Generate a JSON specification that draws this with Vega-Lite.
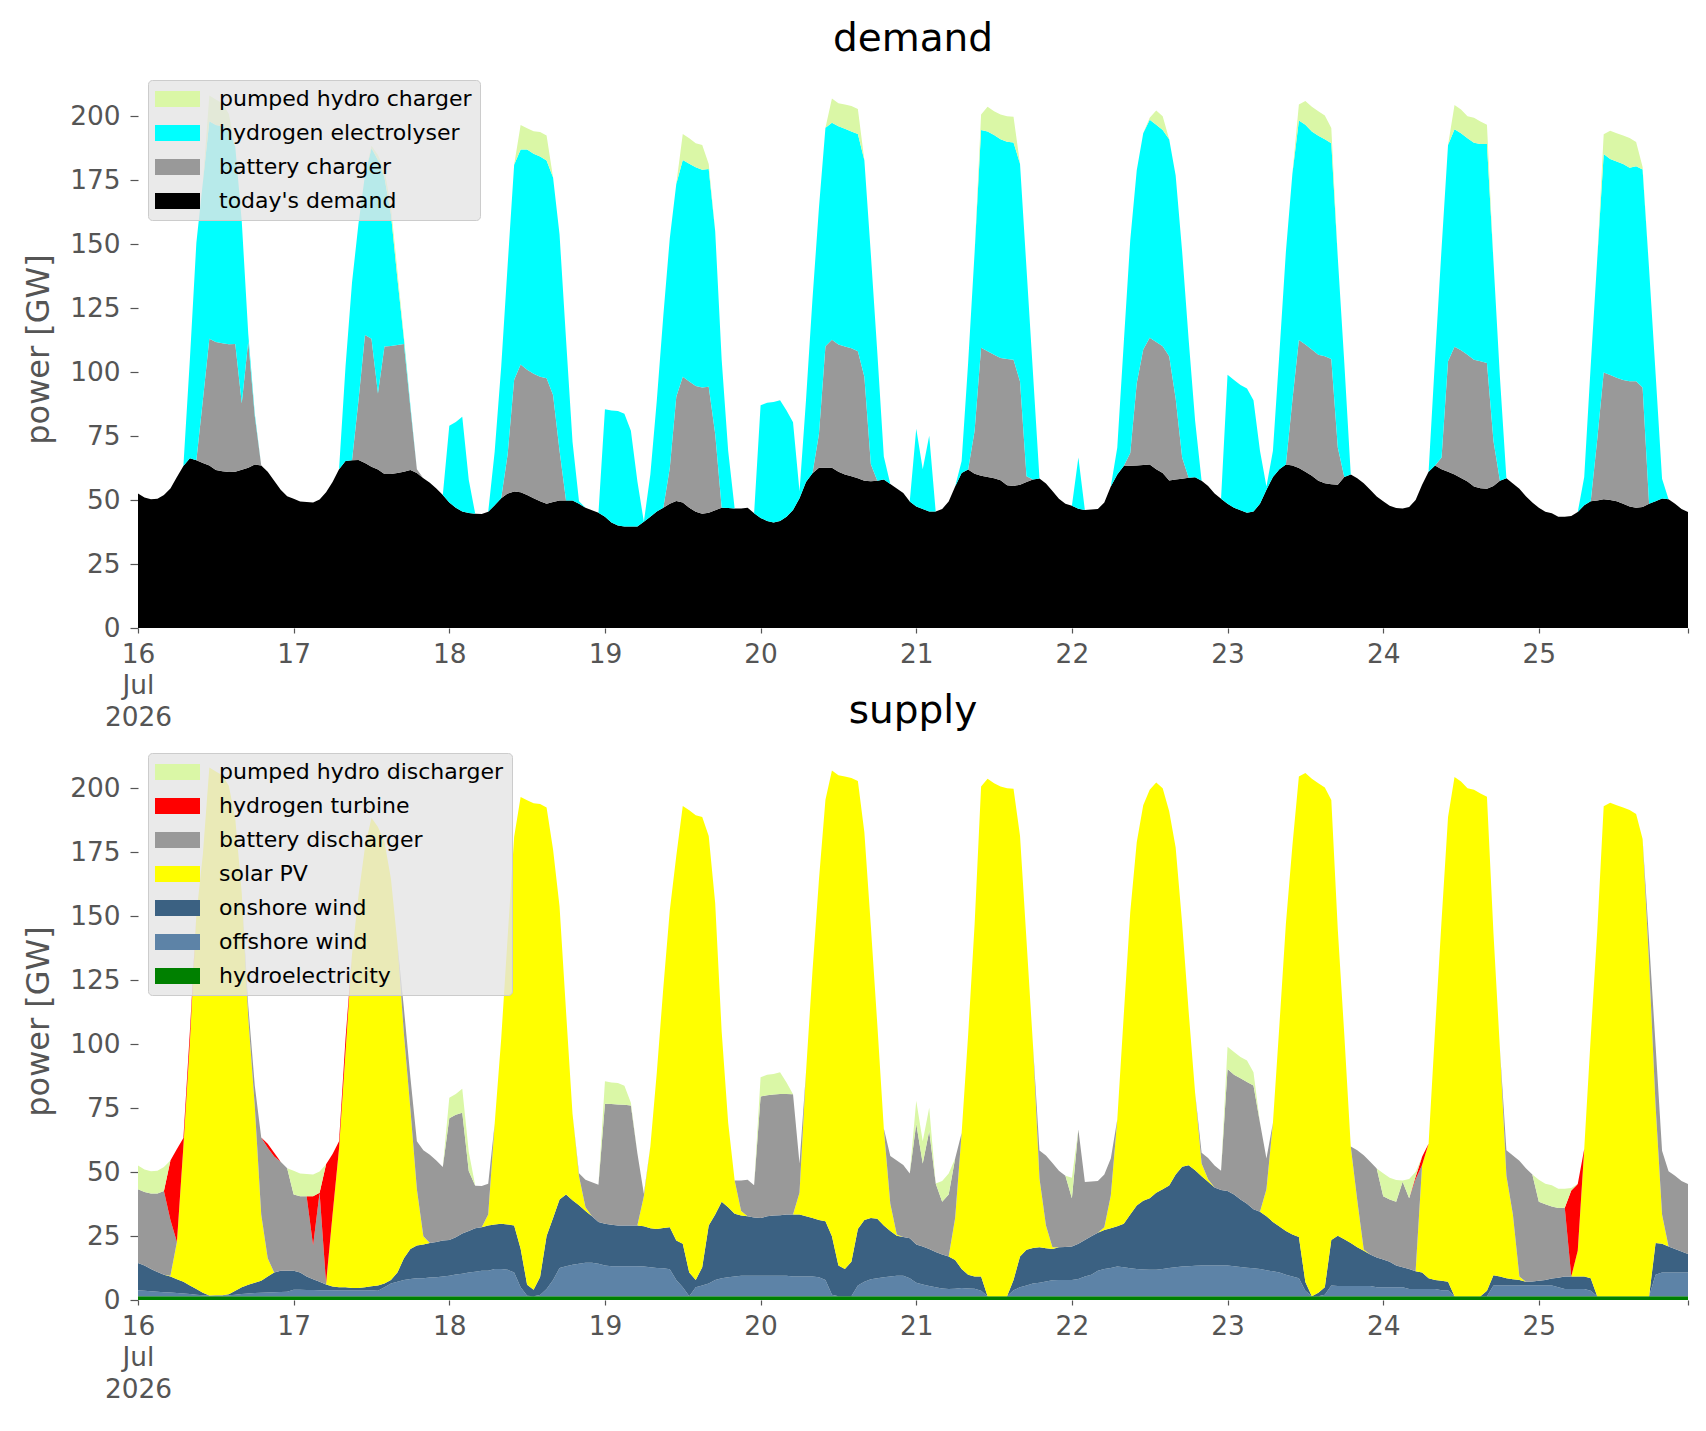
{
"$schema": "https://vega.github.io/schema/vega-lite/v6.json",
"background": "white",
"padding": {"left": 22, "top": 20, "right": 10, "bottom": 10},
"spacing": 114,
"bounds": "flush",
"config": {
 "font": "DejaVu Sans",
 "view": {"stroke": null},
 "axis": {"grid": false, "domain": false, "tickColor": "#555555", "tickWidth": 1.2, "labelColor": "#555555", "labelFont": "DejaVu Sans", "labelFontSize": 26.4, "titleFont": "DejaVu Sans", "titleColor": "#555555", "titleFontSize": 32, "titleFontWeight": "normal"},
 "title": {"fontSize": 39, "fontWeight": "normal", "font": "DejaVu Sans", "color": "#000000", "offset": 11, "anchor": "middle"}
},
"resolve": {"scale": {"color": "independent"}, "legend": {"color": "independent"}},
"datasets": {
 "demandKeys": [
  {"k": "D", "name": "today's demand", "o": 1},
  {"k": "B", "name": "battery charger", "o": 2},
  {"k": "E", "name": "hydrogen electrolyser", "o": 3},
  {"k": "P", "name": "pumped hydro charger", "o": 4}
 ],
 "supplyKeys": [
  {"k": "Hy", "name": "hydroelectricity", "o": 1},
  {"k": "Of", "name": "offshore wind", "o": 2},
  {"k": "On", "name": "onshore wind", "o": 3},
  {"k": "S", "name": "solar PV", "o": 4},
  {"k": "Bd", "name": "battery discharger", "o": 5},
  {"k": "T", "name": "hydrogen turbine", "o": 6},
  {"k": "Pd", "name": "pumped hydro discharger", "o": 7}
 ],
 "hourly": [
{"h":0,"D":52.5,"B":0,"E":0,"P":0,"Hy":1.5,"Of":2.3,"On":10.7,"S":0,"Bd":28.8,"T":0,"Pd":9.2},
{"h":1,"D":51,"B":0,"E":0,"P":0,"Hy":1.5,"Of":2.1,"On":9.9,"S":0,"Bd":28.7,"T":0,"Pd":8.8},
{"h":2,"D":50.3,"B":0,"E":0,"P":0,"Hy":1.5,"Of":1.9,"On":8.7,"S":0,"Bd":29.5,"T":0,"Pd":8.7},
{"h":3,"D":50.5,"B":0,"E":0,"P":0,"Hy":1.5,"Of":1.7,"On":7.7,"S":0,"Bd":30.7,"T":0,"Pd":8.9},
{"h":4,"D":52,"B":0,"E":0,"P":0,"Hy":1.5,"Of":1.5,"On":6.9,"S":0,"Bd":32.7,"T":0,"Pd":9.4},
{"h":5,"D":54.5,"B":0,"E":0,"P":0,"Hy":1.5,"Of":1.4,"On":6.3,"S":0.3,"Bd":21.8,"T":23.2,"Pd":0},
{"h":6,"D":59,"B":0,"E":0,"P":0,"Hy":1.5,"Of":1.2,"On":5.4,"S":14.6,"Bd":0,"T":36.3,"Pd":0},
{"h":7,"D":63.3,"B":0,"E":0,"P":0,"Hy":1.5,"Of":1,"On":4.6,"S":53,"Bd":0,"T":3.2,"Pd":0},
{"h":8,"D":66.3,"B":0,"E":38.7,"P":0,"Hy":1.5,"Of":0.8,"On":3.4,"S":95,"Bd":0,"T":4.3,"Pd":0},
{"h":9,"D":65.5,"B":0,"E":85,"P":0,"Hy":1.5,"Of":0.6,"On":2.2,"S":146.2,"Bd":0,"T":0,"Pd":0},
{"h":10,"D":64.5,"B":24.5,"E":85,"P":0,"Hy":1.5,"Of":0.4,"On":0.9,"S":171.2,"Bd":0,"T":0,"Pd":0},
{"h":11,"D":63.5,"B":49.5,"E":85,"P":10,"Hy":1.5,"Of":0.3,"On":0,"S":206.2,"Bd":0,"T":0,"Pd":0},
{"h":12,"D":61.7,"B":50,"E":84.8,"P":10,"Hy":1.5,"Of":0.3,"On":0.1,"S":204.6,"Bd":0,"T":0,"Pd":0},
{"h":13,"D":61.2,"B":50,"E":84.8,"P":9,"Hy":1.5,"Of":0.3,"On":0.1,"S":203.1,"Bd":0,"T":0,"Pd":0},
{"h":14,"D":60.9,"B":50,"E":84,"P":6,"Hy":1.5,"Of":0.4,"On":0.3,"S":198.7,"Bd":0,"T":0,"Pd":0},
{"h":15,"D":61,"B":50,"E":77,"P":0,"Hy":1.5,"Of":0.6,"On":1.5,"S":184.4,"Bd":0,"T":0,"Pd":0},
{"h":16,"D":61.8,"B":26,"E":71,"P":0,"Hy":1.5,"Of":0.8,"On":2.7,"S":153.8,"Bd":0,"T":0,"Pd":0},
{"h":17,"D":62.6,"B":49.4,"E":3,"P":0,"Hy":1.5,"Of":1,"On":3.5,"S":104.4,"Bd":4.6,"T":0,"Pd":0},
{"h":18,"D":63.9,"B":19,"E":1,"P":0,"Hy":1.5,"Of":1.2,"On":4,"S":69.3,"Bd":7.9,"T":0,"Pd":0},
{"h":19,"D":63.5,"B":0,"E":0,"P":0,"Hy":1.5,"Of":1.3,"On":4.7,"S":25.9,"Bd":30.1,"T":0,"Pd":0},
{"h":20,"D":61,"B":0,"E":0,"P":0,"Hy":1.5,"Of":1.4,"On":6.3,"S":7.1,"Bd":43.2,"T":1.5,"Pd":0},
{"h":21,"D":57.5,"B":0,"E":0,"P":0,"Hy":1.5,"Of":1.5,"On":7.7,"S":0,"Bd":45.4,"T":1.4,"Pd":0},
{"h":22,"D":54,"B":0,"E":0,"P":0,"Hy":1.5,"Of":1.6,"On":8.3,"S":0,"Bd":42.6,"T":0,"Pd":0},
{"h":23,"D":51.5,"B":0,"E":0,"P":0,"Hy":1.5,"Of":1.7,"On":8.2,"S":0,"Bd":40.1,"T":0,"Pd":0},
{"h":24,"D":50.5,"B":0,"E":0,"P":0,"Hy":1.5,"Of":2.5,"On":7.4,"S":0,"Bd":29.8,"T":0,"Pd":9.3},
{"h":25,"D":49.4,"B":0,"E":0,"P":0,"Hy":1.5,"Of":2.5,"On":6.7,"S":0,"Bd":29.8,"T":0,"Pd":8.9},
{"h":26,"D":49.2,"B":0,"E":0,"P":0,"Hy":1.5,"Of":2.4,"On":5.3,"S":0,"Bd":31.3,"T":0,"Pd":8.7},
{"h":27,"D":49,"B":0,"E":0,"P":0,"Hy":1.5,"Of":2.4,"On":4.2,"S":0,"Bd":13.2,"T":19.2,"Pd":8.5},
{"h":28,"D":50.2,"B":0,"E":0,"P":0,"Hy":1.5,"Of":2.3,"On":3.3,"S":0,"Bd":34.8,"T":0,"Pd":8.3},
{"h":29,"D":53,"B":0,"E":0,"P":0,"Hy":1.5,"Of":2.3,"On":2.3,"S":0,"Bd":0.5,"T":46.4,"Pd":0},
{"h":30,"D":57,"B":0,"E":0,"P":0,"Hy":1.5,"Of":2.3,"On":1.5,"S":28.1,"Bd":0,"T":23.6,"Pd":0},
{"h":31,"D":62,"B":0,"E":0,"P":0,"Hy":1.5,"Of":2.2,"On":1.3,"S":54.2,"Bd":0,"T":2.8,"Pd":0},
{"h":32,"D":65.2,"B":0,"E":37,"P":0,"Hy":1.5,"Of":2.2,"On":1.3,"S":92,"Bd":0,"T":5.2,"Pd":0},
{"h":33,"D":65.5,"B":0,"E":69.5,"P":0,"Hy":1.5,"Of":2.2,"On":1,"S":130.3,"Bd":0,"T":0,"Pd":0},
{"h":34,"D":65.6,"B":23.4,"E":69,"P":0,"Hy":1.5,"Of":2.2,"On":1,"S":153.3,"Bd":0,"T":0,"Pd":0},
{"h":35,"D":64.5,"B":50,"E":62.5,"P":0,"Hy":1.5,"Of":2.2,"On":1.3,"S":172,"Bd":0,"T":0,"Pd":0},
{"h":36,"D":63,"B":50,"E":74.4,"P":1,"Hy":1.5,"Of":2.3,"On":1.6,"S":183,"Bd":0,"T":0,"Pd":0},
{"h":37,"D":61.9,"B":29.7,"E":91.2,"P":2,"Hy":1.5,"Of":2.1,"On":2.1,"S":179.1,"Bd":0,"T":0,"Pd":0},
{"h":38,"D":60.2,"B":49.8,"E":66,"P":3,"Hy":1.5,"Of":3.5,"On":1.4,"S":172.6,"Bd":0,"T":0,"Pd":0},
{"h":39,"D":60.2,"B":50,"E":51.4,"P":3,"Hy":1.5,"Of":4.9,"On":1.4,"S":156.8,"Bd":0,"T":0,"Pd":0},
{"h":40,"D":60.6,"B":50,"E":25.9,"P":3,"Hy":1.5,"Of":5.6,"On":3.6,"S":128.8,"Bd":0,"T":0,"Pd":0},
{"h":41,"D":61,"B":50,"E":2,"P":1,"Hy":1.5,"Of":6.3,"On":8.5,"S":87.7,"Bd":10,"T":0,"Pd":0},
{"h":42,"D":61.7,"B":24.3,"E":1,"P":0,"Hy":1.5,"Of":6.7,"On":11.7,"S":54.7,"Bd":12.4,"T":0,"Pd":0},
{"h":43,"D":60.6,"B":1.4,"E":0,"P":0,"Hy":1.5,"Of":7,"On":12.8,"S":22,"Bd":18.7,"T":0,"Pd":0},
{"h":44,"D":58.5,"B":0,"E":0,"P":0,"Hy":1.5,"Of":7,"On":13.2,"S":3.2,"Bd":33.6,"T":0,"Pd":0},
{"h":45,"D":56.7,"B":0,"E":0,"P":0,"Hy":1.5,"Of":7.3,"On":13.5,"S":0,"Bd":34.4,"T":0,"Pd":0},
{"h":46,"D":54.5,"B":0,"E":0,"P":0,"Hy":1.5,"Of":7.4,"On":13.8,"S":0,"Bd":31.8,"T":0,"Pd":0},
{"h":47,"D":52,"B":0,"E":0,"P":0,"Hy":1.5,"Of":7.7,"On":14,"S":0,"Bd":28.8,"T":0,"Pd":0},
{"h":48,"D":49,"B":0,"E":30,"P":0,"Hy":1.5,"Of":8,"On":13.9,"S":0,"Bd":47.6,"T":0,"Pd":8},
{"h":49,"D":47,"B":0,"E":33.5,"P":0,"Hy":1.5,"Of":8.5,"On":14.5,"S":0,"Bd":47.9,"T":0,"Pd":8.1},
{"h":50,"D":45.5,"B":0,"E":37,"P":0,"Hy":1.5,"Of":8.8,"On":15.7,"S":0,"Bd":47.2,"T":0,"Pd":9.3},
{"h":51,"D":44.9,"B":0,"E":13,"P":0,"Hy":1.5,"Of":9.2,"On":16.3,"S":0,"Bd":23.4,"T":0,"Pd":7.5},
{"h":52,"D":44.6,"B":0,"E":0,"P":0,"Hy":1.5,"Of":9.5,"On":17,"S":0,"Bd":16.6,"T":0,"Pd":0},
{"h":53,"D":44.5,"B":0,"E":0,"P":0,"Hy":1.5,"Of":9.9,"On":17,"S":0,"Bd":16.1,"T":0,"Pd":0},
{"h":54,"D":45.4,"B":0,"E":0,"P":0,"Hy":1.5,"Of":9.9,"On":17.7,"S":4.3,"Bd":12,"T":0,"Pd":0},
{"h":55,"D":48,"B":0,"E":21,"P":0,"Hy":1.5,"Of":10.6,"On":17.4,"S":39.5,"Bd":0,"T":0,"Pd":0},
{"h":56,"D":50.7,"B":0,"E":51.3,"P":0,"Hy":1.5,"Of":10.6,"On":17.7,"S":72.2,"Bd":0,"T":0,"Pd":0},
{"h":57,"D":52.5,"B":15.4,"E":74,"P":0,"Hy":1.5,"Of":10.3,"On":17.7,"S":112.4,"Bd":0,"T":0,"Pd":0},
{"h":58,"D":53.3,"B":43.7,"E":84,"P":0,"Hy":1.5,"Of":9.2,"On":18.4,"S":151.9,"Bd":0,"T":0,"Pd":0},
{"h":59,"D":53,"B":49.9,"E":84,"P":9.6,"Hy":1.5,"Of":3.5,"On":15,"S":176.5,"Bd":0,"T":0,"Pd":0},
{"h":60,"D":52,"B":48.9,"E":86,"P":8.3,"Hy":1.5,"Of":0.2,"On":4.3,"S":189.2,"Bd":0,"T":0,"Pd":0},
{"h":61,"D":50.7,"B":48.6,"E":86,"P":8.8,"Hy":1.5,"Of":0,"On":2.5,"S":190.1,"Bd":0,"T":0,"Pd":0},
{"h":62,"D":49.5,"B":48.7,"E":86,"P":9.6,"Hy":1.5,"Of":0.5,"On":7,"S":184.8,"Bd":0,"T":0,"Pd":0},
{"h":63,"D":48.5,"B":49.1,"E":85,"P":9.8,"Hy":1.5,"Of":2.8,"On":20.7,"S":167.4,"Bd":0,"T":0,"Pd":0},
{"h":64,"D":49.2,"B":41.8,"E":85,"P":0,"Hy":1.5,"Of":6.3,"On":24.2,"S":144,"Bd":0,"T":0,"Pd":0},
{"h":65,"D":49.8,"B":19.4,"E":84.5,"P":0,"Hy":1.5,"Of":11,"On":26.8,"S":114.4,"Bd":0,"T":0,"Pd":0},
{"h":66,"D":49.8,"B":0,"E":63,"P":0,"Hy":1.5,"Of":11.7,"On":28,"S":71.6,"Bd":0,"T":0,"Pd":0},
{"h":67,"D":49.8,"B":0,"E":23,"P":0,"Hy":1.5,"Of":12.3,"On":25.2,"S":33.8,"Bd":0,"T":0,"Pd":0},
{"h":68,"D":48.5,"B":0,"E":1,"P":0,"Hy":1.5,"Of":12.7,"On":22.8,"S":11.3,"Bd":1.2,"T":0,"Pd":0},
{"h":69,"D":47,"B":0,"E":0,"P":0,"Hy":1.5,"Of":13.1,"On":20.2,"S":1.4,"Bd":10.8,"T":0,"Pd":0},
{"h":70,"D":46,"B":0,"E":0,"P":0,"Hy":1.5,"Of":13.1,"On":18.1,"S":0,"Bd":13.3,"T":0,"Pd":0},
{"h":71,"D":45,"B":0,"E":0,"P":0,"Hy":1.5,"Of":12.7,"On":16.3,"S":0,"Bd":14.5,"T":0,"Pd":0},
{"h":72,"D":43.5,"B":0,"E":42,"P":0,"Hy":1.5,"Of":12,"On":16.3,"S":0,"Bd":46.9,"T":0,"Pd":8.8},
{"h":73,"D":41.2,"B":0,"E":43.8,"P":0,"Hy":1.5,"Of":11.7,"On":16.2,"S":0,"Bd":47.2,"T":0,"Pd":8.4},
{"h":74,"D":40,"B":0,"E":44.8,"P":0,"Hy":1.5,"Of":11.7,"On":15.9,"S":0,"Bd":47.3,"T":0,"Pd":8.4},
{"h":75,"D":39.7,"B":0,"E":44,"P":0,"Hy":1.5,"Of":11.7,"On":15.9,"S":0,"Bd":47.2,"T":0,"Pd":7.4},
{"h":76,"D":39.7,"B":0,"E":37.4,"P":0,"Hy":1.5,"Of":11.7,"On":15.9,"S":0,"Bd":46.9,"T":0,"Pd":1.1},
{"h":77,"D":39.7,"B":0,"E":17.6,"P":0,"Hy":1.5,"Of":11.7,"On":15.9,"S":0,"Bd":28.2,"T":0,"Pd":0},
{"h":78,"D":41.5,"B":0,"E":0,"P":0,"Hy":1.5,"Of":11.6,"On":15.7,"S":11.7,"Bd":1,"T":0,"Pd":0},
{"h":79,"D":43.5,"B":0,"E":16.5,"P":0,"Hy":1.5,"Of":11.3,"On":15.2,"S":32,"Bd":0,"T":0,"Pd":0},
{"h":80,"D":45.5,"B":0,"E":43.5,"P":0,"Hy":1.5,"Of":11,"On":15.2,"S":61.3,"Bd":0,"T":0,"Pd":0},
{"h":81,"D":47,"B":0,"E":75,"P":0,"Hy":1.5,"Of":10.9,"On":15.7,"S":93.9,"Bd":0,"T":0,"Pd":0},
{"h":82,"D":48.5,"B":14,"E":89.8,"P":0,"Hy":1.5,"Of":10.5,"On":16.4,"S":123.9,"Bd":0,"T":0,"Pd":0},
{"h":83,"D":49.6,"B":40.7,"E":83.2,"P":0,"Hy":1.5,"Of":6.3,"On":15.4,"S":150.3,"Bd":0,"T":0,"Pd":0},
{"h":84,"D":49,"B":49.2,"E":84.6,"P":10.2,"Hy":1.5,"Of":3.5,"On":17,"S":171,"Bd":0,"T":0,"Pd":0},
{"h":85,"D":47,"B":49.3,"E":85.1,"P":9.9,"Hy":1.5,"Of":0,"On":9.2,"S":180.6,"Bd":0,"T":0,"Pd":0},
{"h":86,"D":45.4,"B":49.1,"E":85.5,"P":9.4,"Hy":1.5,"Of":3.5,"On":2.8,"S":181.6,"Bd":0,"T":0,"Pd":0},
{"h":87,"D":44.6,"B":49.4,"E":85,"P":9.7,"Hy":1.5,"Of":4.2,"On":7.1,"S":175.9,"Bd":0,"T":0,"Pd":0},
{"h":88,"D":45,"B":49.3,"E":85,"P":2,"Hy":1.5,"Of":4.9,"On":22.7,"S":152.2,"Bd":0,"T":0,"Pd":0},
{"h":89,"D":46,"B":29.8,"E":79.2,"P":0,"Hy":1.5,"Of":6.3,"On":25.6,"S":121.6,"Bd":0,"T":0,"Pd":0},
{"h":90,"D":47,"B":0,"E":57.8,"P":0,"Hy":1.5,"Of":7,"On":29.9,"S":66.4,"Bd":0,"T":0,"Pd":0},
{"h":91,"D":46.9,"B":0,"E":22.3,"P":0,"Hy":1.5,"Of":7.4,"On":27.3,"S":33,"Bd":0,"T":0,"Pd":0},
{"h":92,"D":46.7,"B":0,"E":0,"P":0,"Hy":1.5,"Of":7.7,"On":24.5,"S":13,"Bd":0,"T":0,"Pd":0},
{"h":93,"D":46.7,"B":0,"E":0,"P":0,"Hy":1.5,"Of":8,"On":23.5,"S":1.8,"Bd":11.9,"T":0,"Pd":0},
{"h":94,"D":47,"B":0,"E":0,"P":0,"Hy":1.5,"Of":8,"On":23.2,"S":0,"Bd":14.3,"T":0,"Pd":0},
{"h":95,"D":44.8,"B":0,"E":0,"P":0,"Hy":1.5,"Of":8,"On":22.7,"S":0,"Bd":12.6,"T":0,"Pd":0},
{"h":96,"D":43,"B":0,"E":44,"P":0,"Hy":1.5,"Of":8,"On":22.5,"S":0,"Bd":47.5,"T":0,"Pd":7.5},
{"h":97,"D":41.8,"B":0,"E":46.2,"P":0,"Hy":1.5,"Of":8,"On":23.2,"S":0,"Bd":47.3,"T":0,"Pd":8},
{"h":98,"D":41.2,"B":0,"E":47.1,"P":0,"Hy":1.5,"Of":8,"On":23.5,"S":0,"Bd":47.3,"T":0,"Pd":8},
{"h":99,"D":41.8,"B":0,"E":47.2,"P":0,"Hy":1.5,"Of":8,"On":23.6,"S":0,"Bd":47.4,"T":0,"Pd":8.5},
{"h":100,"D":43.5,"B":0,"E":41.5,"P":0,"Hy":1.5,"Of":8,"On":23.9,"S":0,"Bd":47.1,"T":0,"Pd":4.5},
{"h":101,"D":46.1,"B":0,"E":34.3,"P":0,"Hy":1.5,"Of":7.7,"On":24.2,"S":0,"Bd":47,"T":0,"Pd":0},
{"h":102,"D":50.7,"B":0,"E":2.6,"P":0,"Hy":1.5,"Of":7.7,"On":24.2,"S":8.5,"Bd":11.4,"T":0,"Pd":0},
{"h":103,"D":57,"B":0,"E":32,"P":0,"Hy":1.5,"Of":7.7,"On":23.5,"S":56.3,"Bd":0,"T":0,"Pd":0},
{"h":104,"D":60.5,"B":0,"E":68,"P":0,"Hy":1.5,"Of":7.7,"On":22.8,"S":96.5,"Bd":0,"T":0,"Pd":0},
{"h":105,"D":62.6,"B":13.2,"E":88.5,"P":0,"Hy":1.5,"Of":7.4,"On":22.4,"S":133,"Bd":0,"T":0,"Pd":0},
{"h":106,"D":62.6,"B":47.5,"E":85.3,"P":0,"Hy":1.5,"Of":6.3,"On":23,"S":164.6,"Bd":0,"T":0,"Pd":0},
{"h":107,"D":62.6,"B":50,"E":84.8,"P":9.5,"Hy":1.5,"Of":0.6,"On":22.8,"S":182,"Bd":0,"T":0,"Pd":0},
{"h":108,"D":61,"B":49.8,"E":85.2,"P":9,"Hy":1.5,"Of":0,"On":12,"S":191.5,"Bd":0,"T":0,"Pd":0},
{"h":109,"D":60,"B":50,"E":85,"P":9.5,"Hy":1.5,"Of":0,"On":10.6,"S":192.4,"Bd":0,"T":0,"Pd":0},
{"h":110,"D":59.3,"B":50,"E":84.7,"P":9.9,"Hy":1.5,"Of":0,"On":13.4,"S":189,"Bd":0,"T":0,"Pd":0},
{"h":111,"D":58.5,"B":49.6,"E":84.9,"P":9.8,"Hy":1.5,"Of":4.2,"On":22,"S":175.1,"Bd":0,"T":0,"Pd":0},
{"h":112,"D":57.5,"B":40.7,"E":84.5,"P":0,"Hy":1.5,"Of":5.6,"On":24.2,"S":151.4,"Bd":0,"T":0,"Pd":0},
{"h":113,"D":57.3,"B":6.7,"E":82,"P":0,"Hy":1.5,"Of":6.6,"On":23.9,"S":114,"Bd":0,"T":0,"Pd":0},
{"h":114,"D":57.5,"B":0,"E":50,"P":0,"Hy":1.5,"Of":7,"On":23.2,"S":75.8,"Bd":0,"T":0,"Pd":0},
{"h":115,"D":58,"B":0,"E":9,"P":0,"Hy":1.5,"Of":7.4,"On":20.2,"S":37.9,"Bd":0,"T":0,"Pd":0},
{"h":116,"D":56.3,"B":0,"E":0,"P":0,"Hy":1.5,"Of":7.7,"On":17.8,"S":10.6,"Bd":18.7,"T":0,"Pd":0},
{"h":117,"D":54.5,"B":0,"E":0,"P":0,"Hy":1.5,"Of":8,"On":15.6,"S":0.5,"Bd":28.9,"T":0,"Pd":0},
{"h":118,"D":52.7,"B":0,"E":0,"P":0,"Hy":1.5,"Of":8,"On":15.1,"S":0,"Bd":28.1,"T":0,"Pd":0},
{"h":119,"D":49.4,"B":0,"E":0,"P":0,"Hy":1.5,"Of":7,"On":15.6,"S":0,"Bd":25.3,"T":0,"Pd":0},
{"h":120,"D":47.5,"B":0,"E":30.3,"P":0,"Hy":1.5,"Of":5.2,"On":15,"S":0,"Bd":47.2,"T":0,"Pd":8.9},
{"h":121,"D":46.5,"B":0,"E":15.5,"P":0,"Hy":1.5,"Of":4.6,"On":14.8,"S":0,"Bd":32.4,"T":0,"Pd":8.7},
{"h":122,"D":45.5,"B":0,"E":29.6,"P":0,"Hy":1.5,"Of":4,"On":14.4,"S":0,"Bd":46.1,"T":0,"Pd":9.1},
{"h":123,"D":45.5,"B":0,"E":0,"P":0,"Hy":1.5,"Of":3.5,"On":13.8,"S":0,"Bd":26.7,"T":0,"Pd":0},
{"h":124,"D":46.5,"B":0,"E":0,"P":0,"Hy":1.5,"Of":3,"On":13.3,"S":0,"Bd":20.6,"T":0,"Pd":8.1},
{"h":125,"D":49.4,"B":0,"E":0,"P":0,"Hy":1.5,"Of":2.8,"On":12.7,"S":0,"Bd":24.2,"T":0,"Pd":8.2},
{"h":126,"D":55.3,"B":0,"E":0,"P":0,"Hy":1.5,"Of":2.9,"On":11.2,"S":16.4,"Bd":23.3,"T":0,"Pd":0},
{"h":127,"D":60.6,"B":0,"E":4.6,"P":0,"Hy":1.5,"Of":3.2,"On":7.4,"S":53.1,"Bd":0,"T":0,"Pd":0},
{"h":128,"D":61.9,"B":0,"E":41.6,"P":0,"Hy":1.5,"Of":3,"On":5.4,"S":93.6,"Bd":0,"T":0,"Pd":0},
{"h":129,"D":60.3,"B":16.8,"E":69.7,"P":0,"Hy":1.5,"Of":2.9,"On":4.8,"S":137.6,"Bd":0,"T":0,"Pd":0},
{"h":130,"D":59.5,"B":50,"E":85.1,"P":6,"Hy":1.5,"Of":2.1,"On":5.6,"S":191.4,"Bd":0,"T":0,"Pd":0},
{"h":131,"D":59,"B":49.1,"E":85.9,"P":9.6,"Hy":1.5,"Of":0,"On":0,"S":202.1,"Bd":0,"T":0,"Pd":0},
{"h":132,"D":58.5,"B":48.3,"E":85.8,"P":9.3,"Hy":1.5,"Of":0,"On":0,"S":200.4,"Bd":0,"T":0,"Pd":0},
{"h":133,"D":57.7,"B":47.8,"E":85.4,"P":9.7,"Hy":1.5,"Of":0,"On":0,"S":199.1,"Bd":0,"T":0,"Pd":0},
{"h":134,"D":55.8,"B":49.3,"E":84.9,"P":9.9,"Hy":1.5,"Of":0,"On":0,"S":198.4,"Bd":0,"T":0,"Pd":0},
{"h":135,"D":55.5,"B":49.3,"E":84.9,"P":10,"Hy":1.5,"Of":2.3,"On":4,"S":191.9,"Bd":0,"T":0,"Pd":0},
{"h":136,"D":56,"B":40.3,"E":85.1,"P":0,"Hy":1.5,"Of":3.5,"On":12,"S":164.4,"Bd":0,"T":0,"Pd":0},
{"h":137,"D":57,"B":2.3,"E":81.2,"P":0,"Hy":1.5,"Of":4.2,"On":13.9,"S":120.9,"Bd":0,"T":0,"Pd":0},
{"h":138,"D":58,"B":0,"E":41.6,"P":0,"Hy":1.5,"Of":4.9,"On":13.9,"S":79.3,"Bd":0,"T":0,"Pd":0},
{"h":139,"D":58.4,"B":0,"E":0,"P":0,"Hy":1.5,"Of":5.2,"On":13.9,"S":27,"Bd":10.8,"T":0,"Pd":0},
{"h":140,"D":56.5,"B":0,"E":0,"P":0,"Hy":1.5,"Of":5.7,"On":13,"S":8.9,"Bd":27.4,"T":0,"Pd":0},
{"h":141,"D":53.5,"B":0,"E":0,"P":0,"Hy":1.5,"Of":6.2,"On":12.2,"S":0.7,"Bd":32.9,"T":0,"Pd":0},
{"h":142,"D":50.5,"B":0,"E":0,"P":0,"Hy":1.5,"Of":6.3,"On":12.8,"S":0,"Bd":29.9,"T":0,"Pd":0},
{"h":143,"D":48.5,"B":0,"E":0,"P":0,"Hy":1.5,"Of":6.3,"On":12.9,"S":0,"Bd":27.8,"T":0,"Pd":0},
{"h":144,"D":47.8,"B":0,"E":0,"P":0,"Hy":1.5,"Of":6.3,"On":13.1,"S":0,"Bd":18.9,"T":0,"Pd":8},
{"h":145,"D":46.6,"B":0,"E":20,"P":0,"Hy":1.5,"Of":6.7,"On":13.8,"S":0,"Bd":44.6,"T":0,"Pd":0},
{"h":146,"D":46.1,"B":0,"E":0,"P":0,"Hy":1.5,"Of":7.7,"On":14.2,"S":0,"Bd":22.7,"T":0,"Pd":0},
{"h":147,"D":46.3,"B":0,"E":0,"P":0,"Hy":1.5,"Of":8.4,"On":15,"S":0,"Bd":21.4,"T":0,"Pd":0},
{"h":148,"D":46.5,"B":0,"E":0,"P":0,"Hy":1.5,"Of":9.9,"On":14.9,"S":0,"Bd":20.2,"T":0,"Pd":0},
{"h":149,"D":49,"B":0,"E":0,"P":0,"Hy":1.5,"Of":10.6,"On":15.2,"S":1.1,"Bd":20.6,"T":0,"Pd":0},
{"h":150,"D":55.3,"B":0,"E":0,"P":0,"Hy":1.5,"Of":11,"On":15.5,"S":12.8,"Bd":14.5,"T":0,"Pd":0},
{"h":151,"D":60,"B":0,"E":10.5,"P":0,"Hy":1.5,"Of":11.6,"On":15.7,"S":41.7,"Bd":0,"T":0,"Pd":0},
{"h":152,"D":63.3,"B":0,"E":48.1,"P":0,"Hy":1.5,"Of":11.3,"On":17,"S":81.6,"Bd":0,"T":0,"Pd":0},
{"h":153,"D":63.4,"B":5,"E":83.2,"P":0,"Hy":1.5,"Of":10.9,"On":21,"S":118.2,"Bd":0,"T":0,"Pd":0},
{"h":154,"D":63.5,"B":32.1,"E":83.2,"P":0,"Hy":1.5,"Of":10.6,"On":24.8,"S":141.9,"Bd":0,"T":0,"Pd":0},
{"h":155,"D":63.7,"B":45.1,"E":84.5,"P":0,"Hy":1.5,"Of":10.4,"On":26.9,"S":154.5,"Bd":0,"T":0,"Pd":0},
{"h":156,"D":63.9,"B":49.5,"E":85.2,"P":0.7,"Hy":1.5,"Of":10.3,"On":28,"S":159.5,"Bd":0,"T":0,"Pd":0},
{"h":157,"D":62,"B":49.7,"E":84.9,"P":5.6,"Hy":1.5,"Of":10.3,"On":30.1,"S":160.3,"Bd":0,"T":0,"Pd":0},
{"h":158,"D":60.6,"B":49.5,"E":84.5,"P":5.3,"Hy":1.5,"Of":10.6,"On":31.2,"S":156.6,"Bd":0,"T":0,"Pd":0},
{"h":159,"D":57.6,"B":48.6,"E":84.7,"P":0,"Hy":1.5,"Of":11,"On":32.2,"S":146.2,"Bd":0,"T":0,"Pd":0},
{"h":160,"D":58,"B":31.7,"E":87.1,"P":0,"Hy":1.5,"Of":11.3,"On":36.2,"S":127.8,"Bd":0,"T":0,"Pd":0},
{"h":161,"D":58.3,"B":8.3,"E":80.5,"P":0,"Hy":1.5,"Of":11.6,"On":39,"S":95,"Bd":0,"T":0,"Pd":0},
{"h":162,"D":58.7,"B":0,"E":54.1,"P":0,"Hy":1.5,"Of":11.7,"On":39.4,"S":60.2,"Bd":0,"T":0,"Pd":0},
{"h":163,"D":58.9,"B":0,"E":22.1,"P":0,"Hy":1.5,"Of":11.9,"On":37.3,"S":30.3,"Bd":0,"T":0,"Pd":0},
{"h":164,"D":57.5,"B":0,"E":0,"P":0,"Hy":1.5,"Of":12,"On":34.8,"S":5,"Bd":4.2,"T":0,"Pd":0},
{"h":165,"D":55.5,"B":0,"E":0,"P":0,"Hy":1.5,"Of":12,"On":32.7,"S":1,"Bd":8.3,"T":0,"Pd":0},
{"h":166,"D":52.5,"B":0,"E":0,"P":0,"Hy":1.5,"Of":12,"On":30.5,"S":0,"Bd":8.5,"T":0,"Pd":0},
{"h":167,"D":50.5,"B":0,"E":0,"P":0,"Hy":1.5,"Of":12,"On":29.5,"S":0,"Bd":7.5,"T":0,"Pd":0},
{"h":168,"D":48.5,"B":0,"E":50.4,"P":0,"Hy":1.5,"Of":12,"On":29.1,"S":0,"Bd":47.6,"T":0,"Pd":8.7},
{"h":169,"D":47,"B":0,"E":49.9,"P":0,"Hy":1.5,"Of":11.7,"On":28,"S":0,"Bd":46.8,"T":0,"Pd":8.9},
{"h":170,"D":46,"B":0,"E":48.9,"P":0,"Hy":1.5,"Of":11.4,"On":26.4,"S":0,"Bd":47.3,"T":0,"Pd":8.3},
{"h":171,"D":45,"B":0,"E":48.6,"P":0,"Hy":1.5,"Of":11.1,"On":25,"S":0,"Bd":47.6,"T":0,"Pd":8.4},
{"h":172,"D":45.5,"B":0,"E":43.5,"P":0,"Hy":1.5,"Of":10.9,"On":23.1,"S":0,"Bd":48.3,"T":0,"Pd":5.2},
{"h":173,"D":48.5,"B":0,"E":20.7,"P":0,"Hy":1.5,"Of":10.6,"On":22.4,"S":0,"Bd":34.7,"T":0,"Pd":0},
{"h":174,"D":54,"B":0,"E":1.3,"P":0,"Hy":1.5,"Of":10.1,"On":21.1,"S":10.6,"Bd":12,"T":0,"Pd":0},
{"h":175,"D":59,"B":0,"E":10.2,"P":0,"Hy":1.5,"Of":9.7,"On":19.3,"S":38.7,"Bd":0,"T":0,"Pd":0},
{"h":176,"D":62,"B":0,"E":45.5,"P":0,"Hy":1.5,"Of":9.2,"On":18,"S":78.8,"Bd":0,"T":0,"Pd":0},
{"h":177,"D":63.9,"B":0,"E":83.2,"P":0,"Hy":1.5,"Of":8.4,"On":17.1,"S":120.1,"Bd":0,"T":0,"Pd":0},
{"h":178,"D":63.5,"B":25.5,"E":88.5,"P":0,"Hy":1.5,"Of":7.7,"On":16.4,"S":151.9,"Bd":0,"T":0,"Pd":0},
{"h":179,"D":62.5,"B":50,"E":85.8,"P":6.2,"Hy":1.5,"Of":7,"On":16.1,"S":179.9,"Bd":0,"T":0,"Pd":0},
{"h":180,"D":61,"B":49.8,"E":85.8,"P":9.3,"Hy":1.5,"Of":2.1,"On":3.4,"S":198.9,"Bd":0,"T":0,"Pd":0},
{"h":181,"D":59.5,"B":49.3,"E":85.2,"P":9.6,"Hy":1.5,"Of":0,"On":0,"S":202.1,"Bd":0,"T":0,"Pd":0},
{"h":182,"D":57.5,"B":49.3,"E":85.5,"P":9.6,"Hy":1.5,"Of":0,"On":1.3,"S":199.1,"Bd":0,"T":0,"Pd":0},
{"h":183,"D":56.6,"B":49.6,"E":84.7,"P":9.3,"Hy":1.5,"Of":0.6,"On":2.9,"S":195.2,"Bd":0,"T":0,"Pd":0},
{"h":184,"D":56.2,"B":48.9,"E":84.3,"P":5.9,"Hy":1.5,"Of":4.2,"On":17.7,"S":171.9,"Bd":0,"T":0,"Pd":0},
{"h":185,"D":56,"B":14.5,"E":74.2,"P":0,"Hy":1.5,"Of":4,"On":19.6,"S":119.6,"Bd":0,"T":0,"Pd":0},
{"h":186,"D":59,"B":0,"E":44.8,"P":0,"Hy":1.5,"Of":4,"On":18.2,"S":80.1,"Bd":0,"T":0,"Pd":0},
{"h":187,"D":60,"B":0,"E":0,"P":0,"Hy":1.5,"Of":4,"On":16.8,"S":37.7,"Bd":0,"T":0,"Pd":0},
{"h":188,"D":58.5,"B":0,"E":0,"P":0,"Hy":1.5,"Of":4,"On":15.1,"S":18.4,"Bd":19.5,"T":0,"Pd":0},
{"h":189,"D":56.6,"B":0,"E":0,"P":0,"Hy":1.5,"Of":4,"On":13.7,"S":0.5,"Bd":36.9,"T":0,"Pd":0},
{"h":190,"D":54,"B":0,"E":0,"P":0,"Hy":1.5,"Of":4,"On":12.3,"S":0,"Bd":36.2,"T":0,"Pd":0},
{"h":191,"D":51.4,"B":0,"E":0,"P":0,"Hy":1.5,"Of":3.5,"On":11.6,"S":0,"Bd":34.8,"T":0,"Pd":0},
{"h":192,"D":49.5,"B":0,"E":0,"P":0,"Hy":1.5,"Of":3.5,"On":10.8,"S":0,"Bd":24.7,"T":0,"Pd":9},
{"h":193,"D":47.8,"B":0,"E":0,"P":0,"Hy":1.5,"Of":3.5,"On":9.9,"S":0,"Bd":24.4,"T":0,"Pd":8.5},
{"h":194,"D":46.9,"B":0,"E":0,"P":0,"Hy":1.5,"Of":3.5,"On":8.5,"S":0,"Bd":24.9,"T":0,"Pd":8.5},
{"h":195,"D":46.7,"B":0,"E":0,"P":0,"Hy":1.5,"Of":3.5,"On":7.8,"S":0,"Bd":33.4,"T":0,"Pd":0.5},
{"h":196,"D":47.3,"B":0,"E":0,"P":0,"Hy":1.5,"Of":2.8,"On":7.8,"S":0,"Bd":27.7,"T":0,"Pd":7.5},
{"h":197,"D":50,"B":0,"E":0,"P":0,"Hy":1.5,"Of":2.8,"On":6.9,"S":0,"Bd":36,"T":1,"Pd":1.8},
{"h":198,"D":56,"B":0,"E":0,"P":0,"Hy":1.5,"Of":2.8,"On":6.4,"S":42,"Bd":0,"T":3.3,"Pd":0},
{"h":199,"D":61,"B":0,"E":0,"P":0,"Hy":1.5,"Of":2.8,"On":4.2,"S":52.5,"Bd":0,"T":0,"Pd":0},
{"h":200,"D":63.5,"B":0,"E":42,"P":0,"Hy":1.5,"Of":2.8,"On":3.5,"S":97.7,"Bd":0,"T":0,"Pd":0},
{"h":201,"D":62,"B":4.6,"E":81.7,"P":0,"Hy":1.5,"Of":2.3,"On":3.7,"S":140.8,"Bd":0,"T":0,"Pd":0},
{"h":202,"D":61,"B":43.2,"E":84.5,"P":0,"Hy":1.5,"Of":2.3,"On":3.3,"S":181.6,"Bd":0,"T":0,"Pd":0},
{"h":203,"D":60,"B":49.9,"E":85,"P":9.4,"Hy":1.5,"Of":0,"On":0,"S":202.8,"Bd":0,"T":0,"Pd":0},
{"h":204,"D":58.6,"B":49.9,"E":84.8,"P":9.3,"Hy":1.5,"Of":0,"On":0,"S":201.1,"Bd":0,"T":0,"Pd":0},
{"h":205,"D":57.2,"B":49.6,"E":84.5,"P":8.6,"Hy":1.5,"Of":0,"On":0,"S":198.4,"Bd":0,"T":0,"Pd":0},
{"h":206,"D":55.3,"B":49.5,"E":84.8,"P":9.7,"Hy":1.5,"Of":0,"On":0,"S":197.8,"Bd":0,"T":0,"Pd":0},
{"h":207,"D":54.6,"B":49.6,"E":84.9,"P":8.8,"Hy":1.5,"Of":0,"On":0,"S":196.4,"Bd":0,"T":0,"Pd":0},
{"h":208,"D":54.4,"B":49.1,"E":85.6,"P":7.5,"Hy":1.5,"Of":0,"On":2.1,"S":193,"Bd":0,"T":0,"Pd":0},
{"h":209,"D":55.5,"B":17.7,"E":70.3,"P":0,"Hy":1.5,"Of":4.2,"On":4,"S":133.8,"Bd":0,"T":0,"Pd":0},
{"h":210,"D":57.5,"B":0,"E":40.5,"P":0,"Hy":1.5,"Of":4.2,"On":3.5,"S":88.8,"Bd":0,"T":0,"Pd":0},
{"h":211,"D":58.5,"B":0,"E":0,"P":0,"Hy":1.5,"Of":4.2,"On":2.8,"S":40,"Bd":10,"T":0,"Pd":0},
{"h":212,"D":56.5,"B":0,"E":0,"P":0,"Hy":1.5,"Of":4.2,"On":2.4,"S":25.3,"Bd":23.1,"T":0,"Pd":0},
{"h":213,"D":54.4,"B":0,"E":0,"P":0,"Hy":1.5,"Of":4.2,"On":2.1,"S":1.4,"Bd":45.2,"T":0,"Pd":0},
{"h":214,"D":51.5,"B":0,"E":0,"P":0,"Hy":1.5,"Of":4.2,"On":1.4,"S":0,"Bd":44.4,"T":0,"Pd":0},
{"h":215,"D":49,"B":0,"E":0,"P":0,"Hy":1.5,"Of":4.2,"On":1.5,"S":0,"Bd":41.8,"T":0,"Pd":0},
{"h":216,"D":47,"B":0,"E":0,"P":0,"Hy":1.5,"Of":4.2,"On":1.8,"S":0,"Bd":30.9,"T":0,"Pd":8.6},
{"h":217,"D":45.4,"B":0,"E":0,"P":0,"Hy":1.5,"Of":4.2,"On":2.1,"S":0,"Bd":29.6,"T":0,"Pd":8},
{"h":218,"D":44.8,"B":0,"E":0,"P":0,"Hy":1.5,"Of":4.2,"On":2.7,"S":0,"Bd":28.1,"T":0,"Pd":8.3},
{"h":219,"D":43.5,"B":0,"E":0,"P":0,"Hy":1.5,"Of":3.5,"On":3.7,"S":0,"Bd":27.2,"T":0,"Pd":7.6},
{"h":220,"D":43.5,"B":0,"E":0,"P":0,"Hy":1.5,"Of":2.8,"On":4.9,"S":0,"Bd":26.8,"T":0,"Pd":7.5},
{"h":221,"D":43.8,"B":0,"E":0,"P":0,"Hy":1.5,"Of":2.8,"On":4.9,"S":0,"Bd":0,"T":33.6,"Pd":1},
{"h":222,"D":45.3,"B":0,"E":0,"P":0,"Hy":1.5,"Of":2.8,"On":4.9,"S":10,"Bd":0,"T":26.1,"Pd":0},
{"h":223,"D":48,"B":0,"E":11,"P":0,"Hy":1.5,"Of":2.8,"On":4.9,"S":49.8,"Bd":0,"T":0,"Pd":0},
{"h":224,"D":49.5,"B":0,"E":53.1,"P":0,"Hy":1.5,"Of":2.1,"On":4.9,"S":94.1,"Bd":0,"T":0,"Pd":0},
{"h":225,"D":49.8,"B":23.7,"E":70.5,"P":0,"Hy":1.5,"Of":0,"On":0,"S":142.5,"Bd":0,"T":0,"Pd":0},
{"h":226,"D":50.3,"B":49.5,"E":85.4,"P":7.7,"Hy":1.5,"Of":0,"On":0,"S":191.4,"Bd":0,"T":0,"Pd":0},
{"h":227,"D":50,"B":48.8,"E":84.4,"P":11.1,"Hy":1.5,"Of":0,"On":0,"S":192.8,"Bd":0,"T":0,"Pd":0},
{"h":228,"D":49.5,"B":48.3,"E":84.5,"P":11,"Hy":1.5,"Of":0,"On":0,"S":191.8,"Bd":0,"T":0,"Pd":0},
{"h":229,"D":48.5,"B":48.4,"E":84.4,"P":11.1,"Hy":1.5,"Of":0,"On":0,"S":190.9,"Bd":0,"T":0,"Pd":0},
{"h":230,"D":47.5,"B":48.9,"E":83.4,"P":11.6,"Hy":1.5,"Of":0,"On":0,"S":189.9,"Bd":0,"T":0,"Pd":0},
{"h":231,"D":47,"B":49.4,"E":84,"P":9.5,"Hy":1.5,"Of":0,"On":0,"S":188.4,"Bd":0,"T":0,"Pd":0},
{"h":232,"D":47.3,"B":46.7,"E":85.1,"P":1,"Hy":1.5,"Of":0,"On":0,"S":178.6,"Bd":0,"T":0,"Pd":0},
{"h":233,"D":48.5,"B":0,"E":91.8,"P":0,"Hy":1.5,"Of":0,"On":0,"S":130,"Bd":8.8,"T":0,"Pd":0},
{"h":234,"D":49.5,"B":0,"E":50,"P":0,"Hy":1.5,"Of":8.4,"On":12.4,"S":53.7,"Bd":23.5,"T":0,"Pd":0},
{"h":235,"D":50.6,"B":0,"E":7.7,"P":0,"Hy":1.5,"Of":9.2,"On":11.3,"S":11.4,"Bd":24.9,"T":0,"Pd":0},
{"h":236,"D":50.3,"B":0,"E":0,"P":0,"Hy":1.5,"Of":9.2,"On":10.2,"S":0,"Bd":29.4,"T":0,"Pd":0},
{"h":237,"D":48.5,"B":0,"E":0,"P":0,"Hy":1.5,"Of":9.2,"On":9.2,"S":0,"Bd":28.6,"T":0,"Pd":0},
{"h":238,"D":46.5,"B":0,"E":0,"P":0,"Hy":1.5,"Of":9.2,"On":8.2,"S":0,"Bd":27.6,"T":0,"Pd":0},
{"h":239,"D":45.3,"B":0,"E":0,"P":0,"Hy":1.5,"Of":9.2,"On":7.3,"S":0,"Bd":27.3,"T":0,"Pd":0}
 ]
},
"vconcat": [
 {
  "title": {"text": "demand"},
  "width": 1550,
  "height": 558,
  "data": {"name": "hourly"},
  "transform": [
   {"fold": ["D", "B", "E", "P"], "as": ["k", "value"]},
   {"lookup": "k", "from": {"data": {"name": "demandKeys"}, "key": "k", "fields": ["name", "o"]}}
  ],
  "mark": {"type": "area", "interpolate": "linear"},
  "encoding": {
   "x": {"field": "h", "type": "quantitative", "scale": {"domain": [0, 239], "nice": false, "zero": false},
         "axis": {"title": null, "values": [0, 24, 48, 72, 96, 120, 144, 168, 192, 216, 239],
                  "labelExpr": "datum.value == 0 ? ['16', 'Jul', '2026'] : (datum.value == 239 ? '' : '' + (datum.value / 24 + 16))",
                  "labelFlush": false, "labelOverlap": false, "labelBound": false, "tickSize": 5, "labelPadding": 8, "labelLineHeight": 31.5}},
   "y": {"field": "value", "type": "quantitative", "stack": "zero", "scale": {"domain": [0, 218], "nice": false},
         "axis": {"title": "power [GW]", "values": [0, 25, 50, 75, 100, 125, 150, 175, 200], "tickSize": 8, "labelPadding": 10, "titlePadding": 14}},
   "color": {"field": "name", "type": "nominal",
             "scale": {"domain": ["pumped hydro charger", "hydrogen electrolyser", "battery charger", "today's demand"], "range": ["#daf7a6", "#00ffff", "#999999", "#000000"]},
             "legend": {"title": null, "orient": "none", "legendX": 10, "legendY": 10, "symbolType": "M-1.5,-1H4.125V1H-1.5Z", "symbolSize": 256, "symbolStrokeWidth": 0, "labelFontSize": 22, "labelLimit": 600, "labelColor": "#000000", "labelFont": "DejaVu Sans", "labelOffset": 41, "padding": 8, "rowPadding": 12, "fillColor": "rgba(229,229,229,0.8)", "strokeColor": "#cccccc", "cornerRadius": 4}},
   "order": {"field": "o", "type": "quantitative"}
  }
 },
 {
  "title": {"text": "supply"},
  "width": 1550,
  "height": 558,
  "data": {"name": "hourly"},
  "transform": [
   {"fold": ["Hy", "Of", "On", "S", "Bd", "T", "Pd"], "as": ["k", "value"]},
   {"lookup": "k", "from": {"data": {"name": "supplyKeys"}, "key": "k", "fields": ["name", "o"]}}
  ],
  "mark": {"type": "area", "interpolate": "linear"},
  "encoding": {
   "x": {"field": "h", "type": "quantitative", "scale": {"domain": [0, 239], "nice": false, "zero": false},
         "axis": {"title": null, "values": [0, 24, 48, 72, 96, 120, 144, 168, 192, 216, 239],
                  "labelExpr": "datum.value == 0 ? ['16', 'Jul', '2026'] : (datum.value == 239 ? '' : '' + (datum.value / 24 + 16))",
                  "labelFlush": false, "labelOverlap": false, "labelBound": false, "tickSize": 5, "labelPadding": 8, "labelLineHeight": 31.5}},
   "y": {"field": "value", "type": "quantitative", "stack": "zero", "scale": {"domain": [0, 218], "nice": false},
         "axis": {"title": "power [GW]", "values": [0, 25, 50, 75, 100, 125, 150, 175, 200], "tickSize": 8, "labelPadding": 10, "titlePadding": 14}},
   "color": {"field": "name", "type": "nominal",
             "scale": {"domain": ["pumped hydro discharger", "hydrogen turbine", "battery discharger", "solar PV", "onshore wind", "offshore wind", "hydroelectricity"], "range": ["#daf7a6", "#ff0000", "#999999", "#ffff00", "#3b6182", "#5d83a7", "#008000"]},
             "legend": {"title": null, "orient": "none", "legendX": 10, "legendY": 11, "symbolType": "M-1.5,-1H4.125V1H-1.5Z", "symbolSize": 256, "symbolStrokeWidth": 0, "labelFontSize": 22, "labelLimit": 600, "labelColor": "#000000", "labelFont": "DejaVu Sans", "labelOffset": 41, "padding": 8, "rowPadding": 12, "fillColor": "rgba(229,229,229,0.8)", "strokeColor": "#cccccc", "cornerRadius": 4}},
   "order": {"field": "o", "type": "quantitative"}
  }
 }
]
}
